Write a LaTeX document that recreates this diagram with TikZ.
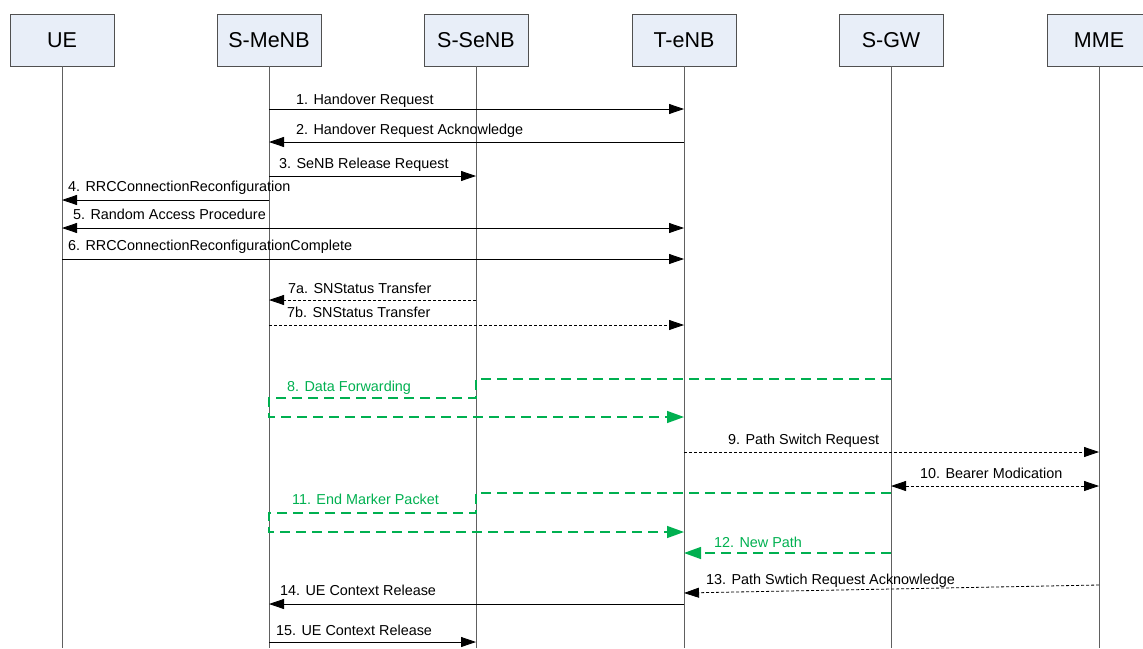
\documentclass[tikz,border=0pt]{standalone}
\usepackage{fontspec}
\setmainfont{Liberation Sans}
\usepackage{tikz}
\usetikzlibrary{arrows.meta}
\definecolor{boxfill}{HTML}{E8EEF8}
\definecolor{boxline}{HTML}{505050}
\definecolor{lifegray}{HTML}{606060}
\definecolor{fwdgreen}{HTML}{00B050}

\begin{document}
\begin{tikzpicture}[x=1pt, y=-1pt,
  actor/.style={draw=boxline, fill=boxfill, line width=0.8pt, minimum width=104pt,
    minimum height=52pt, inner sep=0pt, font=\fontsize{21.5}{24}\selectfont},
  life/.style={draw=lifegray, line width=0.9pt},
  msg/.style={line width=0.8pt, -{Triangle[length=15pt,width=10pt]}},
  dmsg/.style={msg, dash pattern=on 3pt off 2pt},
  bidir/.style={line width=0.8pt, {Triangle[length=15pt,width=10pt]}-{Triangle[length=15pt,width=10pt]}},
  fwd/.style={draw=fwdgreen, line width=1.4pt, dash pattern=on 10pt off 6pt},
  fwdarr/.style={fwd, -{Triangle[length=17pt,width=12pt,fill=fwdgreen]}},
  lbl/.style={anchor=base west, inner sep=0pt, font=\fontsize{14.4}{16}\selectfont},
  glbl/.style={lbl, text=fwdgreen}]
  \useasboundingbox (0,0) rectangle (1143,648);

  %% --- entities and lifelines ---
  \foreach \n/\x/\t in {ue/62/UE, menb/269/S-MeNB, senb/476/S-SeNB,
                        tenb/684/T-eNB, sgw/891/S-GW, mme/1099/MME} {
    \node[actor] (\n) at (\x,40) {\t};
    \draw[life] (\n.south) -- (\n |- 0,648);
  }

  %% --- handover preparation ---
  \draw[msg] (menb |- 0,109) -- (tenb |- 0,109);
  \node[lbl] (l1) at (296,104.5) {1. Handover Request};
  \draw[msg] (tenb |- 0,142) -- (menb |- 0,142);
  \node[lbl] (l2) at (296,134.5) {2. Handover Request Acknowledge};
  \draw[msg] (menb |- 0,176) -- (senb |- 0,176);
  \node[lbl] (l3) at (279,168.5) {3. SeNB Release Request};
  \draw[msg] (menb |- 0,200) -- (ue |- 0,200);
  \node[lbl] (l4) at (68,191.5) {4. RRCConnectionReconfiguration};
  \draw[bidir] (ue |- 0,228) -- (tenb |- 0,228);
  \node[lbl] (l5) at (73,219.5) {5. Random Access Procedure};
  \draw[msg] (ue |- 0,259) -- (tenb |- 0,259);
  \node[lbl] (l6) at (68,250.5) {6. RRCConnectionReconfigurationComplete};

  %% --- status transfer ---
  \draw[dmsg] (senb |- 0,300) -- (menb |- 0,300);
  \node[lbl] (l7a) at (288,293.5) {7a. SNStatus Transfer};
  \draw[dmsg] (menb |- 0,325) -- (tenb |- 0,325);
  \node[lbl] (l7b) at (287,317.5) {7b. SNStatus Transfer};

  %% --- data forwarding (green) ---
  \draw[fwdarr] (sgw |- 0,379) -- (senb |- 0,379) -- (senb |- 0,398)
    -- (menb |- 0,398) -- (menb |- 0,417) -- (tenb |- 0,417);
  \node[glbl] (l8) at (287,391.5) {8. Data Forwarding};

  %% --- path switch ---
  \draw[dmsg] (tenb |- 0,452) -- (mme |- 0,452);
  \node[lbl] (l9) at (728,444.5) {9. Path Switch Request};
  \draw[dmsg, {Triangle[length=15pt,width=10pt]}-{Triangle[length=15pt,width=10pt]}]
    (sgw |- 0,486) -- (mme |- 0,486);
  \node[lbl] (l10) at (920,478.5) {10. Bearer Modication};
  \draw[fwdarr] (sgw |- 0,493) -- (senb |- 0,493) -- (senb |- 0,513)
    -- (menb |- 0,513) -- (menb |- 0,532) -- (tenb |- 0,532);
  \node[glbl] (l11) at (292,504.5) {11. End Marker Packet};
  \draw[fwdarr] (sgw |- 0,553) -- (tenb |- 0,553);
  \node[glbl] (l12) at (714,547.5) {12. New Path};
  \draw[dmsg] (mme |- 0,585) -- (tenb |- 0,593);
  \node[lbl] (l13) at (706,584.5) {13. Path Swtich Request Acknowledge};

  %% --- context release ---
  \draw[msg] (tenb |- 0,604) -- (menb |- 0,604);
  \node[lbl] (l14) at (280,595.5) {14. UE Context Release};
  \draw[msg] (menb |- 0,642) -- (senb |- 0,642);
  \node[lbl] (l15) at (276,635.5) {15. UE Context Release};
\end{tikzpicture}
\end{document}
